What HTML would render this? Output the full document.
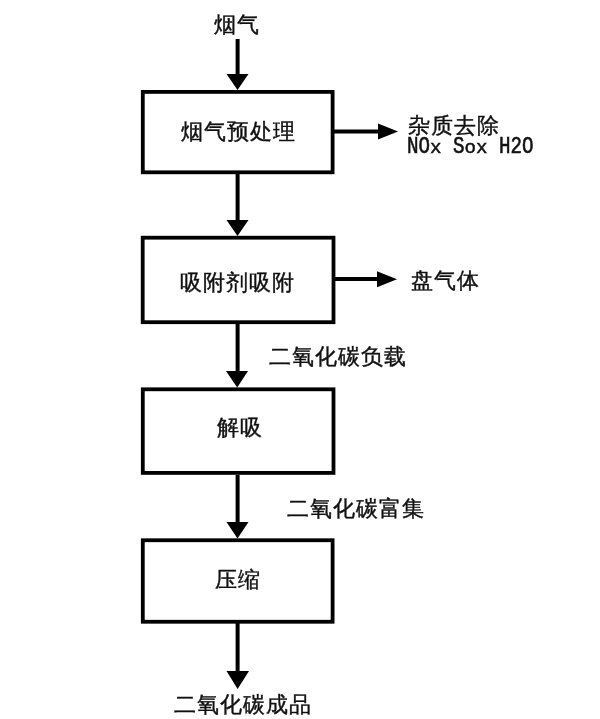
<!DOCTYPE html>
<html><head><meta charset="utf-8">
<style>
html,body{margin:0;padding:0;background:#fff;}
body{width:600px;height:719px;position:relative;overflow:hidden;filter:blur(0.35px);font-family:"Liberation Sans",sans-serif;color:#111;}
svg{position:absolute;left:0;top:0;}
.t{position:absolute;font-size:22px;line-height:23px;white-space:nowrap;letter-spacing:1px;-webkit-text-stroke:0.4px #111;}
.m{position:absolute;font-family:"Liberation Mono",monospace;font-size:23px;line-height:23px;white-space:pre;transform:scaleX(0.833);transform-origin:0 0;-webkit-text-stroke:0.6px #111;}
.lc{display:inline-block;transform:scaleY(0.76);transform-origin:0 17.7px;}
</style></head><body>
<svg width="600" height="719" viewBox="0 0 600 719">
<g fill="none" stroke="#000" stroke-width="3.8">
<rect x="142.8" y="91.9" width="189.8" height="80.4"/>
<rect x="142.7" y="237.7" width="190.8" height="84.5"/>
<rect x="142.8" y="389.3" width="190.7" height="83.6"/>
<rect x="142.8" y="540.25" width="189.8" height="81.5"/>
</g>
<g fill="#000">
<rect x="235.6" y="39" width="4" height="36"/>
<polygon points="226.5,74 248.5,74 237.5,90"/>
<rect x="235.6" y="174" width="4" height="47"/>
<polygon points="226.5,220 248.5,220 237.5,236"/>
<rect x="235.6" y="324" width="4" height="48"/>
<polygon points="226,371 248,371 237.2,387.5"/>
<rect x="235.6" y="475" width="4" height="48"/>
<polygon points="226.5,522 248.5,522 237.5,538.5"/>
<rect x="235.6" y="623" width="4" height="49"/>
<polygon points="226.5,671 249,671 237.6,689"/>
<rect x="334" y="129.5" width="45" height="4"/>
<polygon points="378,123.5 378,139.5 398,131.5"/>
<rect x="334" y="277" width="45" height="4"/>
<polygon points="377,271.3 377,287.3 397,279.3"/>
</g>
</svg>
<div class="t" style="left:214px;top:13px">烟气</div>
<div class="t" style="left:181px;top:120px">烟气预处理</div>
<div class="t" style="left:408px;top:114px">杂质去除</div>
<div class="m" style="left:407px;top:136px">NO<span class="lc">x</span> S<span class="lc">o</span><span class="lc">x</span> H2O</div>
<div class="t" style="left:179.5px;top:270.5px">吸附剂吸附</div>
<div class="t" style="left:411px;top:269px">盘气体</div>
<div class="t" style="left:268.5px;top:345px">二氧化碳负载</div>
<div class="t" style="left:216.5px;top:416px">解吸</div>
<div class="t" style="left:286.8px;top:497px">二氧化碳富集</div>
<div class="t" style="left:215px;top:568px">压缩</div>
<div class="t" style="left:173.5px;top:693px">二氧化碳成品</div>
</body></html>
